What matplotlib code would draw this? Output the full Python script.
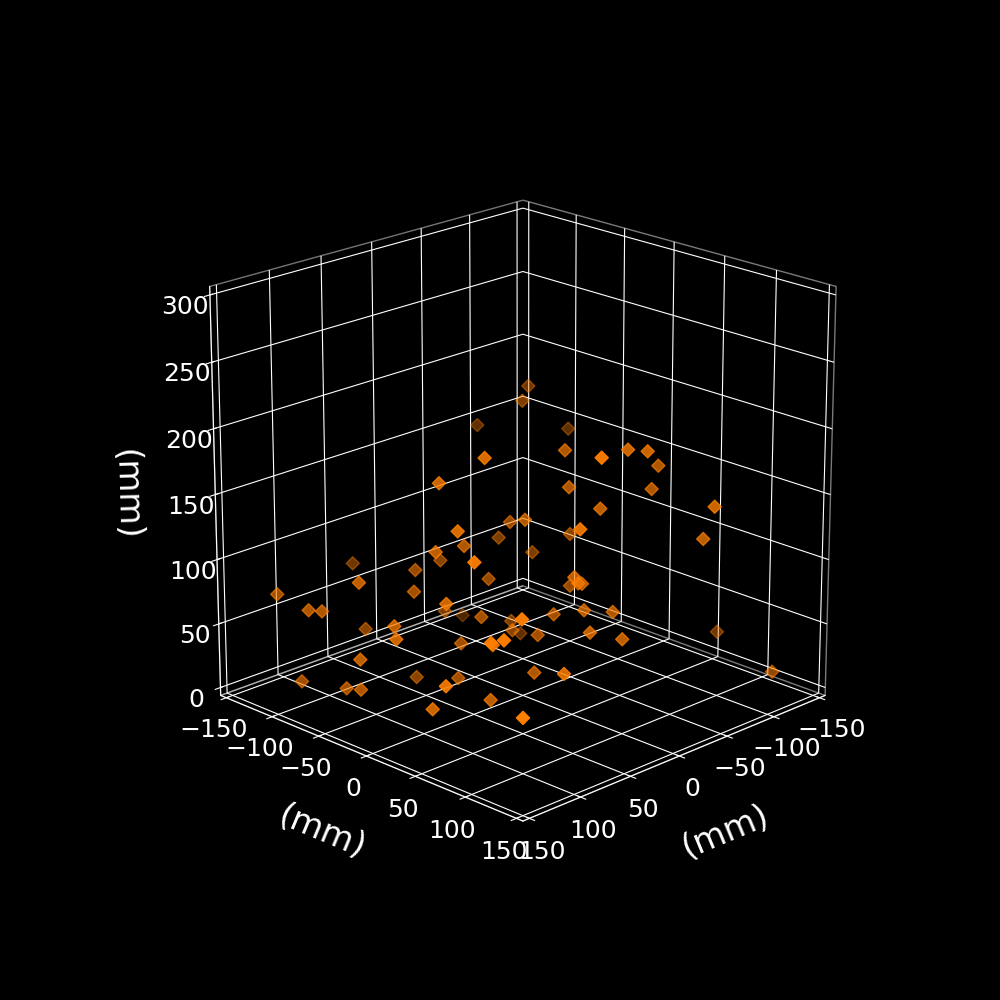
import matplotlib
matplotlib.use('Agg')
import matplotlib.pyplot as plt

# positions (mm)
x_mm = [150.0,150.0,143.7,56.5,132.4,87.3,144.8,149.9,132.3,137.5,88.9,37.0,61.1,120.1,28.7,64.4,81.6,104.7,30.4,-26.9,51.9,122.2,135.5,66.7,125.4,100.9,125.8,-2.0,113.6,12.4,-31.8,26.5,-25.0,14.9,47.6,70.7,69.6,74.1,142.8,86.7,129.3,134.1,24.0,-11.5,10.2,-66.1,-46.6,-46.5,-93.4,-6.0,73.4,-1.7,87.9,7.9,26.0,99.0,-10.2,-34.0,50.8,40.8,-11.5,-21.0,-50.2,-42.9,-0.6,-44.8,-46.8,8.4,11.9,-2.2,25.7,10.7,-120.4,-104.1]
y_mm = [-98.5,-65.2,-58.1,-120.2,-31.2,-73.8,-17.4,-73.9,-45.8,-25.1,1.9,-47.6,2.0,72.9,-6.2,-45.1,-28.5,28.8,-50.0,-90.6,9.9,-6.1,10.0,4.2,94.4,71.2,107.5,-14.0,112.7,1.6,-34.5,41.5,-15.3,46.0,59.0,111.2,-39.2,8.8,67.5,54.5,39.9,134.2,75.3,36.4,65.8,-60.5,-47.2,-94.2,-46.0,36.3,35.7,44.6,4.7,-5.2,28.1,34.8,-35.2,14.2,106.9,117.4,92.7,102.7,85.8,86.4,76.6,145.3,133.1,67.7,73.3,88.0,92.6,109.8,81.1,150.0]
z_mm = [87.4,84.4,83.8,79.9,109.9,49.9,58.9,27.2,24.9,31.5,130.2,96.6,127.4,150.1,91.2,97.2,89.8,102.8,54.6,23.8,72.8,81.0,79.5,55.1,98.0,82.8,103.8,47.8,117.3,49.0,23.8,60.7,94.9,74.6,42.9,63.9,17.2,31.8,63.0,32.1,33.4,56.7,113.5,86.6,102.5,202.3,198.7,168.5,166.0,191.3,205.2,166.6,182.3,129.7,144.9,157.2,104.9,114.5,165.0,217.7,204.4,203.3,181.0,165.4,159.0,166.8,138.9,102.2,84.5,83.4,76.8,72.4,32.7,25.9]

plt.style.use('dark_background')
plt.rcParams['axes3d.automargin'] = True

fig = plt.figure(figsize=(10, 10), dpi=100)
ax = fig.add_subplot(111, projection='3d')
ax.set_xlim(-150, 150)
ax.set_ylim(-150, 150)
ax.set_zlim(0, 300)
ax.set_box_aspect((1, 1, 1), zoom=0.95)
ax.view_init(elev=20, azim=45)

ax.xaxis.pane.fill = False
ax.yaxis.pane.fill = False
ax.zaxis.pane.fill = False
ax.tick_params(labelsize=18)

# short labels do not rotate along the axis by default
ax.xaxis.set_rotate_label(True)
ax.yaxis.set_rotate_label(True)
ax.zaxis.set_rotate_label(True)
ax.set_xlabel('(mm)', fontsize=24, labelpad=20)
ax.set_ylabel('(mm)', fontsize=24, labelpad=20)
ax.set_zlabel('(mm)', fontsize=24, labelpad=21)

ax.scatter(x_mm, y_mm, z_mm, marker='D', s=45, c='#ff7f00')

fig.savefig('out.png', dpi=100)
